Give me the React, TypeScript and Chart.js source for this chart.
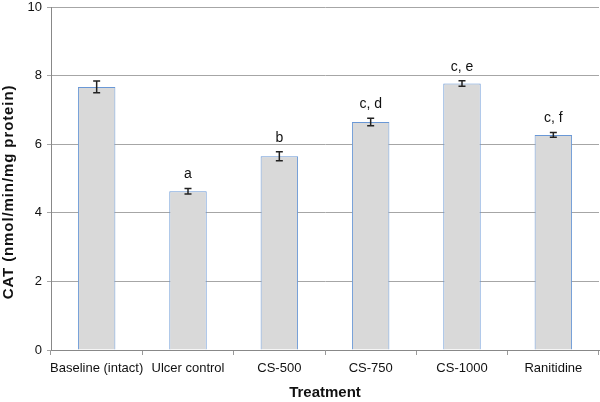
import React, { useEffect, useRef } from "react";
import { Chart, registerables } from "chart.js";

Chart.register(...registerables);

const categories = ["Baseline (intact)", "Ulcer control", "CS-500", "CS-750", "CS-1000", "Ranitidine"];
const values = [7.67, 4.63, 5.65, 6.65, 7.77, 6.27];
const errors = [0.17, 0.08, 0.13, 0.11, 0.08, 0.07];
const letters = ["", "a", "b", "c, d", "c, e", "c, f"];
const yTicks = [0, 2, 4, 6, 8, 10];
const yTitle = "CAT (nmol/min/mg protein)";

const FONT = "'Liberation Sans', Arial, Helvetica, sans-serif";

const errorPlugin = {
  id: "errorBars",
  afterDatasetsDraw(chart: any) {
    const ctx = chart.ctx;
    const x = chart.scales.x;
    const y = chart.scales.y;
    ctx.save();
    values.forEach((v, i) => {
      const px = x.getPixelForValue(i);
      const top = y.getPixelForValue(v + errors[i]);
      const bot = y.getPixelForValue(v - errors[i]);
      ctx.strokeStyle = "#222";
      ctx.lineWidth = 1.5;
      ctx.beginPath();
      ctx.moveTo(px, top);
      ctx.lineTo(px, bot);
      ctx.moveTo(px - 3.5, top);
      ctx.lineTo(px + 3.5, top);
      ctx.moveTo(px - 3.5, bot);
      ctx.lineTo(px + 3.5, bot);
      ctx.stroke();
      if (letters[i]) {
        ctx.fillStyle = "#111";
        ctx.font = "14px " + FONT;
        ctx.textAlign = "center";
        ctx.textBaseline = "bottom";
        ctx.fillText(letters[i], px, top - 7);
      }
    });
    // y axis title
    ctx.translate(9, 192);
    ctx.rotate(-Math.PI / 2);
    ctx.fillStyle = "#111";
    ctx.font = "bold 15px " + FONT;
    (ctx as any).letterSpacing = "0.9px";
    ctx.textAlign = "center";
    ctx.textBaseline = "middle";
    ctx.fillText(yTitle, 0, 0);
    ctx.restore();
  },
};

export default function App() {
  const ref = useRef<HTMLCanvasElement>(null);
  useEffect(() => {
    document.body.style.margin = "0";
    const chart = new Chart(ref.current!, {
      type: "bar",
      data: {
        labels: categories,
        datasets: [
          {
            data: values,
            backgroundColor: "#d9d9d9",
            borderColor: "#6a98d6",
            borderWidth: 1,
            categoryPercentage: 1,
            barPercentage: 0.41,
          },
        ],
      },
      plugins: [errorPlugin],
      options: {
        animation: false,
        responsive: false,
        layout: { padding: { top: 0, right: 1, left: 0, bottom: 0 } },
        plugins: { legend: { display: false }, tooltip: { enabled: false } },
        scales: {
          x: {
            afterFit(scale: any) {
              scale.height = 52;
            },
            grid: {
              display: true,
              drawOnChartArea: false,
              tickLength: 5,
              color: "#999",
              offset: true,
            },
            border: { color: "#888", width: 1 },
            ticks: {
              color: "#111",
              font: { family: FONT, size: 13 },
              padding: 6,
              maxRotation: 0,
              autoSkip: false,
            },
            title: {
              display: true,
              text: "Treatment",
              color: "#111",
              font: { family: FONT, size: 15, weight: "bold" },
              padding: { top: 5, bottom: 0 },
            },
          },
          y: {
            min: 0,
            max: 10,
            afterFit(scale: any) {
              scale.width = 51;
              scale.paddingTop = 7;
            },
            afterBuildTicks(scale: any) {
              scale.ticks = yTicks.map((v) => ({ value: v }));
            },
            grid: { color: "#a6a6a6", tickLength: 4, lineWidth: 1 },
            border: { color: "#888", width: 1 },
            ticks: { color: "#111", font: { family: FONT, size: 13 }, padding: 5 },
          },
        },
      },
    } as any);
    return () => chart.destroy();
  }, []);
  return (
    <div style={{ width: 600, height: 402, background: "#fff" }}>
      <canvas ref={ref} width={600} height={402} style={{ display: "block" }} />
    </div>
  );
}
